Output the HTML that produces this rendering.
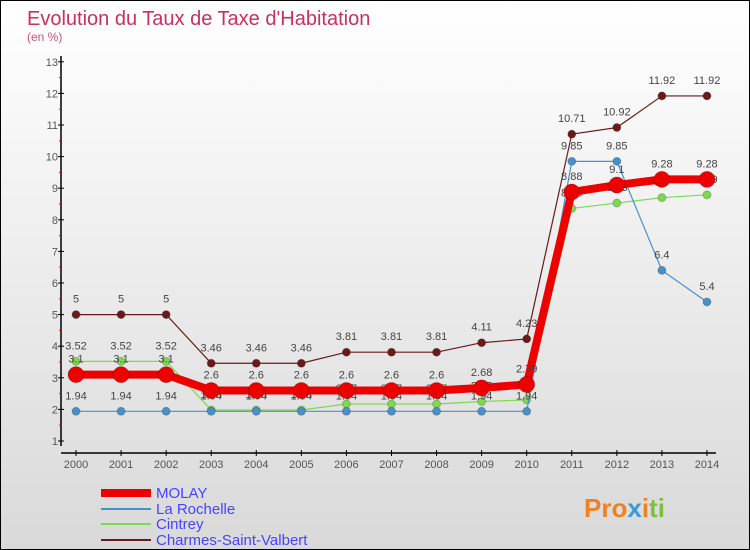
<!DOCTYPE html>
<html><head><meta charset="utf-8"><style>
body{margin:0}
#wrap{position:relative;width:748px;height:548px;border:1px solid #000;background:linear-gradient(#fff,#d9d9d9);font-family:"Liberation Sans",sans-serif;overflow:hidden}
</style></head><body>
<div id="wrap">
<svg id="svg" width="748" height="548" xmlns="http://www.w3.org/2000/svg">
<text x="26" y="24" font-size="20" fill="#c8305e">Evolution du Taux de Taxe d'Habitation</text>
<text x="26" y="40" font-size="12" fill="#d0507a">(en %)</text>
<g id="axes"></g><g id="series"></g>
<g>
<line x1="100" y1="492" x2="150" y2="492" stroke="#e00" stroke-width="8"/>
<text x="155" y="497" font-size="15" fill="#44f">MOLAY</text>
<line x1="100" y1="508" x2="150" y2="508" stroke="#4a90c8" stroke-width="2"/>
<text x="155" y="513" font-size="15" fill="#44f">La Rochelle</text>
<line x1="100" y1="523" x2="150" y2="523" stroke="#7ed850" stroke-width="2"/>
<text x="155" y="528" font-size="15" fill="#44f">Cintrey</text>
<line x1="100" y1="539" x2="150" y2="539" stroke="#6a1a1a" stroke-width="2"/>
<text x="155" y="544" font-size="15" fill="#44f">Charmes-Saint-Valbert</text>
</g>
<text x="583" y="516" font-size="26" font-weight="bold"><tspan fill="#f08020">Pro</tspan><tspan fill="#3a9ad8">x</tspan><tspan fill="#f08020">i</tspan><tspan fill="#7cc040">ti</tspan></text>
</svg>
</div>
<script>
const years=[2000,2001,2002,2003,2004,2005,2006,2007,2008,2009,2010,2011,2012,2013,2014];
const molay=[3.1,3.1,3.1,2.6,2.6,2.6,2.6,2.6,2.6,2.68,2.79,8.88,9.1,9.28,9.28];
const laRochelle=[1.94,1.94,1.94,1.94,1.94,1.94,1.94,1.94,1.94,1.94,1.94,9.85,9.85,6.4,5.4];
const cintrey=[3.52,3.52,3.52,1.98,1.98,1.98,2.17,2.17,2.17,2.25,2.3,8.36,8.53,8.7,8.79];
const charmes=[5,5,5,3.46,3.46,3.46,3.81,3.81,3.81,4.11,4.23,10.71,10.92,11.92,11.92];
const yTicks=[1,2,3,4,5,6,7,8,9,10,11,12,13];
const NS="http://www.w3.org/2000/svg";
const X=i=>75+i*45.07;
const Y=v=>440-(v-1)*31.6;
function mk(t,a,p){const e=document.createElementNS(NS,t);for(const k in a)e.setAttribute(k,a[k]);p.appendChild(e);return e;}
const ax=document.getElementById('axes');
let l=mk('line',{x1:60,y1:55,x2:60,y2:445,stroke:'#000','stroke-width':1.5},ax);


l=mk('line',{x1:60,y1:452,x2:715,y2:452,stroke:'#000','stroke-width':1.5},ax);


yTicks.forEach(v=>{
  mk('line',{x1:57,y1:Y(v),x2:63,y2:Y(v),stroke:'#000'},ax);
  if(v<13)mk('line',{x1:58,y1:Y(v+0.5),x2:61,y2:Y(v+0.5),stroke:'#e00'},ax);
  const t=mk('text',{x:57,y:Y(v)+4,'font-size':11,fill:'#555','text-anchor':'end'},ax);
  t.textContent=v;
  
  
});
years.forEach((yr,i)=>{
  mk('line',{x1:X(i),y1:449,x2:X(i),y2:455,stroke:'#000'},ax);
  const t=mk('text',{x:X(i),y:467,'font-size':11,fill:'#555','text-anchor':'middle'},ax);
  t.textContent=yr;
  
  
});
const sg=document.getElementById('series');
function draw(vals,color,w,r,name){
  const g=mk('g',{},sg);
  
  
  mk('polyline',{points:vals.map((v,i)=>X(i)+','+Y(v)).join(' '),fill:'none',stroke:color,'stroke-width':w},g);
  vals.forEach((v,i)=>{
    const c=mk('circle',{cx:X(i),cy:Y(v),r:r,fill:color,stroke:'#0003'},g);
    
    
    const t=mk('text',{x:X(i),y:Y(v)-12,'font-size':11,fill:'#444','text-anchor':'middle'},g);
    t.textContent=v;
  });
}
draw(charmes,'#6a1a1a',1.2,4,'series-charmes');
draw(cintrey,'#7ed850',1.2,4,'series-cintrey');
draw(laRochelle,'#4a90c8',1.2,4,'series-la-rochelle');
draw(molay,'#ee0000',8,8,'series-molay');
</script>
</body></html>
